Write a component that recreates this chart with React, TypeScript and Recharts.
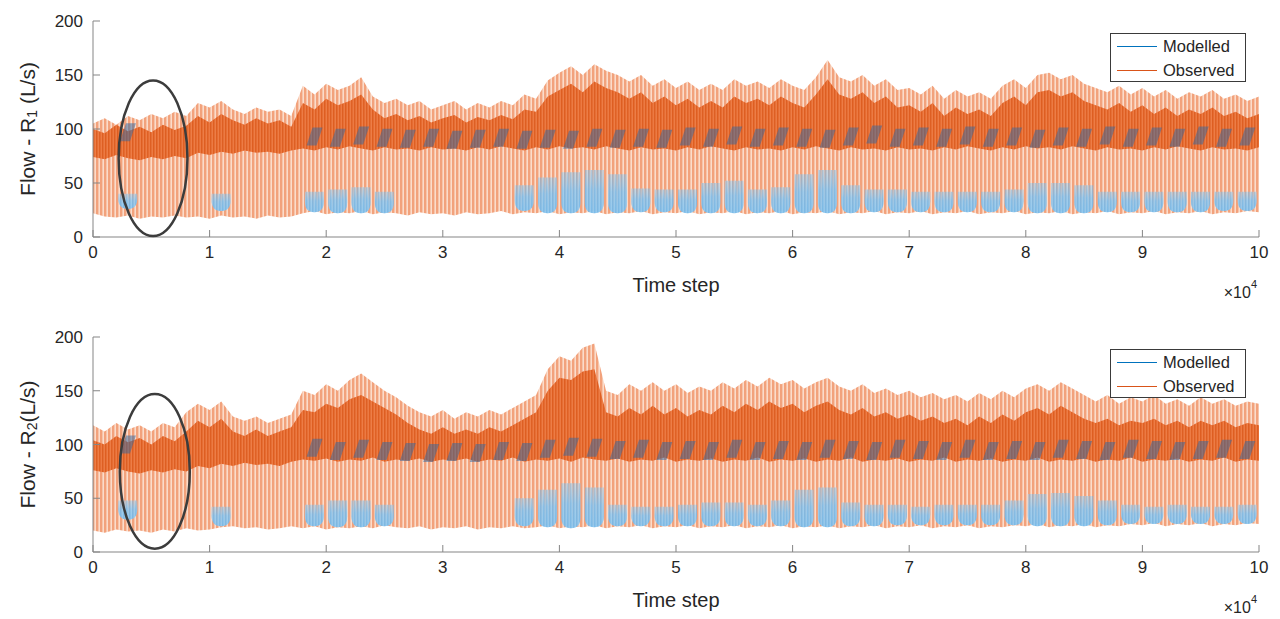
import { ComposedChart, Area, Bar, Scatter, XAxis, YAxis, ReferenceArea, Legend } from 'recharts'

// time axis sampled every 1000 steps (values in thousands)
const timeK = [
  0, 1, 2, 3, 4, 5, 6, 7, 8, 9, 10, 11, 12, 13, 14, 15, 16, 17, 18, 19,
  20, 21, 22, 23, 24, 25, 26, 27, 28, 29, 30, 31, 32, 33, 34, 35, 36, 37, 38, 39,
  40, 41, 42, 43, 44, 45, 46, 47, 48, 49, 50, 51, 52, 53, 54, 55, 56, 57, 58, 59,
  60, 61, 62, 63, 64, 65, 66, 67, 68, 69, 70, 71, 72, 73, 74, 75, 76, 77, 78, 79,
  80, 81, 82, 83, 84, 85, 86, 87, 88, 89, 90, 91, 92, 93, 94, 95, 96, 97, 98, 99, 100,
]
// one modelled cycle every 2000 steps, centred on odd thousands
const cycleK = [
  1, 3, 5, 7, 9, 11, 13, 15, 17, 19, 21, 23, 25, 27, 29, 31, 33, 35, 37, 39,
  41, 43, 45, 47, 49, 51, 53, 55, 57, 59, 61, 63, 65, 67, 69, 71, 73, 75, 77, 79,
  81, 83, 85, 87, 89, 91, 93, 95, 97, 99,
]
const xTicks = [0, 10000, 20000, 30000, 40000, 50000, 60000, 70000, 80000, 90000, 100000]
const yTicks = [0, 50, 100, 150, 200]

// ---- R1 ----
const r1ObsTop = [
  105, 110, 104, 112, 108, 114, 110, 116, 112, 124, 120, 126, 118, 114, 120, 116, 118, 112, 140, 132,
  142, 136, 140, 148, 130, 124, 128, 122, 126, 118, 122, 126, 118, 124, 120, 126, 122, 132, 128, 145,
  152, 158, 150, 160, 154, 150, 144, 150, 140, 146, 138, 144, 136, 142, 136, 146, 140, 144, 138, 146,
  140, 136, 148, 164, 148, 144, 150, 140, 146, 136, 138, 132, 140, 128, 136, 130, 134, 128, 140, 146,
  138, 150, 152, 146, 150, 142, 138, 134, 140, 132, 138, 130, 136, 128, 134, 130, 136, 128, 132, 126, 130,
]
const r1ObsCoreTop = [
  100, 96, 104, 98, 102, 97, 104, 99, 103, 112, 106, 114, 108, 104, 110, 105, 108, 102, 124, 118,
  128, 122, 126, 132, 118, 110, 114, 108, 112, 106, 110, 113, 106, 111, 108, 113, 109, 118, 116, 130,
  136, 142, 134, 144, 138, 134, 128, 134, 124, 130, 122, 128, 120, 126, 120, 130, 124, 128, 122, 130,
  124, 120, 132, 146, 132, 128, 134, 124, 130, 120, 122, 116, 124, 112, 120, 114, 118, 112, 124, 130,
  122, 134, 136, 130, 134, 126, 122, 118, 124, 116, 122, 114, 120, 112, 118, 114, 120, 112, 116, 110, 114,
]
const r1ObsCoreLow = [
  74, 72, 76, 73, 71, 74, 72, 75, 73, 78, 76, 79, 77, 80, 78, 79, 77, 80, 82, 80,
  83, 81, 84, 82, 80, 83, 81, 82, 80, 83, 81, 82, 80, 83, 81, 84, 82, 80, 83, 81,
  84, 82, 83, 81, 84, 82, 80, 83, 81, 82, 80, 83, 81, 84, 82, 80, 83, 81, 82, 80,
  83, 81, 84, 82, 80, 83, 81, 82, 80, 83, 81, 82, 80, 83, 81, 84, 82, 80, 83, 81,
  84, 82, 83, 81, 84, 82, 80, 83, 81, 82, 80, 83, 81, 84, 82, 80, 83, 81, 82, 80, 83,
]
const r1ObsLow = [
  22, 19, 18, 20, 17, 19, 18, 20, 18, 19, 17, 20, 18, 19, 17, 20, 18, 19, 22, 24,
  21, 23, 22, 24, 21, 23, 22, 20, 23, 21, 22, 20, 23, 21, 22, 24, 21, 23, 22, 24,
  21, 23, 22, 24, 21, 23, 22, 24, 21, 23, 22, 24, 21, 23, 22, 24, 21, 23, 22, 24,
  21, 23, 22, 24, 21, 23, 22, 24, 21, 23, 22, 24, 21, 23, 22, 24, 21, 23, 22, 24,
  21, 23, 22, 24, 21, 23, 22, 24, 21, 23, 22, 24, 21, 23, 22, 24, 21, 23, 22, 24, 23,
]
// modelled night-time lows (visible part) per cycle
const r1ModNightLow = [
  null, 26, null, null, null, 24, null, null, null, 23, 22, 22, 22, null, null, null, null, null, 24, 22,
  22, 22, 22, 23, 23, 22, 22, 22, 22, 22, 22, 22, 22, 23, 23, 23, 23, 23, 23, 23,
  22, 22, 22, 23, 23, 23, 23, 23, 24, 24,
]
const r1ModNightTop = [
  null, 40, null, null, null, 40, null, null, null, 42, 44, 46, 42, null, null, null, null, null, 48, 55,
  60, 62, 58, 45, 44, 44, 50, 52, 44, 46, 58, 62, 48, 44, 44, 42, 42, 42, 42, 44,
  50, 50, 48, 42, 42, 42, 42, 42, 42, 42,
]
// modelled daytime peaks per cycle
const r1ModPeak = [
  null, 97, null, null, null, null, null, null, null, 93, 92, 94, 92, 91, 92, 90, 91, 92, 90, 91,
  90, 92, 91, 92, 91, 93, 92, 94, 92, 93, 92, 91, 93, 95, 92, 93, 92, 94, 92, 93,
  91, 93, 92, 94, 92, 93, 92, 94, 92, 93,
]

// ---- R2 ----
const r2ObsTop = [
  118, 112, 120, 114, 118, 112, 120, 116, 130, 138, 132, 140, 126, 122, 126, 120, 124, 128, 150, 146,
  156, 150, 160, 166, 158, 150, 144, 136, 130, 126, 132, 124, 130, 126, 132, 128, 134, 140, 146, 170,
  182, 178, 190, 194, 150, 146, 156, 150, 158, 150, 156, 148, 154, 150, 158, 152, 160, 154, 162, 156,
  160, 152, 158, 162, 154, 150, 156, 148, 152, 146, 150, 144, 148, 142, 146, 140, 148, 142, 150, 144,
  152, 156, 150, 158, 152, 146, 140, 146, 138, 144, 140, 146, 138, 142, 136, 144, 138, 142, 136, 140, 138,
]
const r2ObsCoreTop = [
  104, 100, 108, 102, 106, 100, 108, 103, 112, 122, 116, 124, 112, 108, 114, 108, 112, 116, 132, 130,
  138, 134, 142, 146, 140, 134, 128, 120, 114, 110, 116, 110, 114, 110, 116, 112, 118, 124, 130, 150,
  162, 160, 168, 170, 130, 126, 134, 128, 136, 128, 134, 126, 132, 128, 136, 130, 138, 132, 140, 134,
  138, 130, 136, 140, 132, 128, 134, 126, 130, 124, 128, 122, 126, 120, 124, 118, 126, 120, 128, 122,
  130, 134, 128, 136, 130, 124, 120, 124, 118, 122, 120, 124, 118, 122, 116, 122, 118, 122, 116, 120, 118,
]
const r2ObsCoreLow = [
  76, 74, 78, 75, 73, 76, 74, 77, 75, 80, 78, 82, 80, 83, 81, 82, 80, 84, 86, 85,
  87, 84, 86, 85, 88, 84, 86, 85, 87, 84, 86, 85, 87, 84, 86, 85, 88, 84, 86, 85,
  87, 84, 88, 86, 85, 87, 84, 86, 85, 88, 84, 86, 85, 87, 84, 86, 85, 88, 84, 86,
  85, 87, 84, 86, 85, 88, 84, 86, 85, 87, 84, 86, 85, 88, 84, 86, 85, 87, 84, 86,
  85, 88, 84, 86, 85, 87, 84, 86, 85, 88, 84, 86, 85, 87, 84, 86, 85, 88, 84, 86, 85,
]
const r2ObsLow = [
  20, 18, 21, 19, 20, 18, 21, 19, 22, 20, 21, 23, 24, 22, 23, 21, 22, 24, 22, 24,
  21, 23, 22, 24, 22, 25, 23, 22, 24, 21, 23, 22, 24, 21, 23, 22, 24, 22, 23, 25,
  22, 24, 23, 25, 22, 24, 23, 25, 22, 24, 23, 25, 22, 24, 23, 25, 22, 24, 23, 25,
  22, 24, 23, 25, 22, 24, 23, 25, 22, 24, 23, 25, 22, 24, 23, 25, 22, 24, 23, 25,
  24, 26, 23, 25, 24, 26, 23, 25, 24, 26, 25, 27, 24, 26, 25, 27, 24, 26, 25, 27, 26,
]
const r2ModNightLow = [
  null, 30, null, null, null, 24, null, null, null, 24, 23, 23, 24, null, null, null, null, null, 24, 23,
  22, 23, 24, 24, 24, 24, 24, 24, 24, 24, 23, 23, 24, 24, 25, 25, 25, 25, 25, 25,
  24, 24, 24, 25, 26, 26, 26, 26, 26, 26,
]
const r2ModNightTop = [
  null, 48, null, null, null, 42, null, null, null, 44, 48, 48, 44, null, null, null, null, null, 50, 58,
  64, 60, 44, 42, 42, 44, 46, 46, 44, 48, 58, 60, 46, 44, 44, 42, 44, 44, 44, 48,
  54, 55, 52, 48, 44, 42, 44, 42, 42, 44,
]
const r2ModPeak = [
  null, 100, null, null, null, null, null, null, null, 97, 94, 96, 94, 93, 92, 93, 92, 94, 93, 96,
  98, 97, 95, 96, 94, 95, 94, 96, 94, 95, 94, 96, 95, 94, 96, 95, 94, 96, 94, 95,
  94, 96, 95, 94, 96, 95, 94, 95, 96, 95,
]

const FONT = "'Liberation Sans', Arial, Helvetica, sans-serif"
const TXT = '#262626'
const AXIS = '#858585'

function buildRows(
  obsTop: number[],
  coreTop: number[],
  coreLow: number[],
  obsLow: number[],
  nightLow: (number | null)[],
  nightTop: (number | null)[],
) {
  return timeK.map((k, i) => {
    const c = cycleK.indexOf(k)
    const lo = c >= 0 ? nightLow[c] : null
    const hi = c >= 0 ? nightTop[c] : null
    return {
      t: k * 1000,
      obs: [obsLow[i], obsTop[i]],
      core: [coreLow[i], coreTop[i]],
      night: lo != null && hi != null ? [lo, hi] : null,
    }
  })
}

function buildPeaks(peaks: (number | null)[]) {
  return cycleK
    .map((k, i) => ({ t: k * 1000, v: peaks[i] }))
    .filter((d) => d.v != null)
}

// rounded-bottom bump for a night-time low; drawn wider than the 1000-step band
const NightBump = (p: any) => {
  const { x, y, width, height } = p
  if (x == null || y == null || !height || height <= 0 || Number.isNaN(y)) return <g />
  const cx = x + width / 2
  const w = 19
  const r = Math.min(11, height)
  const b = y + height
  const d = `M${cx - w / 2},${y} L${cx + w / 2},${y} L${cx + w / 2},${b - r} Q${cx + w / 2},${b} ${cx},${b} Q${cx - w / 2},${b} ${cx - w / 2},${b - r} Z`
  return (
    <g>
      <path d={d} fill={`url(#${p.gid}-fade)`} />
      <path d={d} fill={`url(#${p.gid}-blue)`} fillOpacity={0.35} />
    </g>
  )
}

const PeakBlob = (props: any) => {
  const { cx, cy } = props
  if (cx == null || cy == null || Number.isNaN(cy)) return <g />
  return (
    <polygon
      points={`${cx - 8},${cy + 9} ${cx + 2},${cy + 9} ${cx + 8},${cy - 9} ${cx - 2},${cy - 9}`}
      fill="#2d68a4"
      fillOpacity={0.5}
    />
  )
}

const EllipseMark = (p: any) => (
  <ellipse
    cx={p.x + p.width / 2}
    cy={p.y + p.height / 2}
    rx={p.width / 2}
    ry={p.height / 2}
    fill="none"
    stroke="#3c3c3c"
    strokeWidth={2.5}
  />
)

const LegendBox = () => (
  <div
    style={{
      width: 134,
      height: 47,
      border: '1px solid #3a3a3a',
      background: '#fff',
      fontFamily: FONT,
      fontSize: 16.5,
      color: TXT,
    }}
  >
    {[
      { name: 'Modelled', color: '#0072BD' },
      { name: 'Observed', color: '#D95319' },
    ].map((s) => (
      <div key={s.name} style={{ display: 'flex', alignItems: 'center', height: 24 }}>
        <div style={{ width: 40, height: 1, background: s.color, marginLeft: 6, marginRight: 6 }} />
        <span>{s.name}</span>
      </div>
    ))}
  </div>
)

type PanelProps = {
  id: string
  sub: string
  gap: string
  rows: ReturnType<typeof buildRows>
  peaks: { t: number; v: number | null }[]
  height: number
  marginBottom: number
  ellipse: [number, number, number, number]
}

function FlowPanel({ id, sub, gap, rows, peaks, height, marginBottom, ellipse }: PanelProps) {
  return (
    <ComposedChart width={1280} height={height} data={rows} margin={{ top: 21, right: 21, bottom: marginBottom, left: 33 }}>
      <defs>
        <pattern id={`${id}-light`} width="4" height="10" patternUnits="userSpaceOnUse">
          <rect width="4" height="10" fill="#fbdccb" />
          <rect width="2.4" height="10" fill="#f2a27c" />
        </pattern>
        <pattern id={`${id}-core`} width="3" height="10" patternUnits="userSpaceOnUse">
          <rect width="3" height="10" fill="#ec7840" />
          <rect width="1.5" height="10" fill="#dd5a1c" />
        </pattern>
        <pattern id={`${id}-blue`} width="3" height="10" patternUnits="userSpaceOnUse">
          <rect width="3" height="10" fill="#a6d4f3" />
          <rect width="1.5" height="10" fill="#5ea8de" />
        </pattern>
        <linearGradient id={`${id}-fade`} x1="0" y1="0" x2="0" y2="1">
          <stop offset="0%" stopColor="#9fd0f2" stopOpacity={0.25} />
          <stop offset="45%" stopColor="#8ac5ef" stopOpacity={0.8} />
          <stop offset="100%" stopColor="#86c2ec" stopOpacity={0.95} />
        </linearGradient>
      </defs>
      <XAxis
        xAxisId="b"
        dataKey="t"
        type="number"
        domain={[0, 100000]}
        ticks={xTicks}
        tickFormatter={(v: number) => String(v / 10000)}
        tickSize={-7}
        tickMargin={16}
        stroke={AXIS}
        tick={{ fill: TXT, fontSize: 17, fontFamily: FONT }}
        height={40}
        label={{
          content: (p: any) => {
            const vb = p.viewBox
            return (
              <g fontFamily={FONT} fill={TXT}>
                <text x={vb.x + vb.width / 2} y={vb.y + 48} textAnchor="middle" dominantBaseline="central" fontSize={20}>
                  Time step
                </text>
                <text x={vb.x + vb.width - 2} y={vb.y + 55} textAnchor="end" dominantBaseline="central" fontSize={16}>
                  ×10<tspan dy={-8} fontSize={11}>4</tspan>
                </text>
              </g>
            )
          },
        }}
      />
      <XAxis xAxisId="top" orientation="top" dataKey="t" type="number" domain={[0, 100000]} ticks={xTicks} tick={false} tickSize={-7} height={0} stroke={AXIS} />
      <YAxis
        yAxisId="l"
        type="number"
        domain={[0, 200]}
        ticks={yTicks}
        width={60}
        tickSize={-7}
        tickMargin={17}
        stroke={AXIS}
        tick={{ fill: TXT, fontSize: 17, fontFamily: FONT }}
        label={{
          content: (p: any) => {
            const vb = p.viewBox
            const cx = 27
            const cy = vb.y + vb.height / 2
            return (
              <text x={cx} y={cy} transform={`rotate(-90 ${cx} ${cy})`} textAnchor="middle" dominantBaseline="central" fontSize={21} fontFamily={FONT} fill={TXT}>
                Flow - R<tspan dy={5} fontSize={14}>{sub}</tspan>
                <tspan dy={-5}>{gap}(L/s)</tspan>
              </text>
            )
          },
        }}
      />
      <YAxis yAxisId="r" orientation="right" type="number" domain={[0, 200]} ticks={yTicks} tick={false} width={0} tickSize={-7} stroke={AXIS} />
      <Area xAxisId="b" yAxisId="l" dataKey="obs" type="linear" stroke="none" fill={`url(#${id}-light)`} fillOpacity={1} dot={false} activeDot={false} isAnimationActive={false} />
      <Area xAxisId="b" yAxisId="l" dataKey="core" type="linear" stroke="none" fill={`url(#${id}-core)`} fillOpacity={0.95} dot={false} activeDot={false} isAnimationActive={false} />
      <Bar xAxisId="b" yAxisId="l" dataKey="night" shape={(p: any) => <NightBump {...p} gid={id} />} isAnimationActive={false} />
      <Scatter xAxisId="b" yAxisId="l" data={peaks} dataKey="v" shape={PeakBlob} isAnimationActive={false} />
      <ReferenceArea xAxisId="b" yAxisId="l" x1={ellipse[0]} x2={ellipse[1]} y1={ellipse[2]} y2={ellipse[3]} shape={EllipseMark} zIndex={1000} />
      <Legend
        verticalAlign="middle"
        align="center"
        layout="horizontal"
        wrapperStyle={{ position: 'absolute', top: 33, left: 1110, width: 136, height: 49 }}
        content={() => <LegendBox />}
      />
    </ComposedChart>
  )
}

export default function App() {
  const rows1 = buildRows(r1ObsTop, r1ObsCoreTop, r1ObsCoreLow, r1ObsLow, r1ModNightLow, r1ModNightTop)
  const rows2 = buildRows(r2ObsTop, r2ObsCoreTop, r2ObsCoreLow, r2ObsLow, r2ModNightLow, r2ModNightTop)
  return (
    <div style={{ position: 'absolute', left: 0, top: 0, width: 1280, height: 619, background: '#fff', fontFamily: FONT }}>
      <div style={{ position: 'absolute', left: 0, top: 0 }}>
        <FlowPanel id="r1" sub="1" gap="  " rows={rows1} peaks={buildPeaks(r1ModPeak)} height={300} marginBottom={23} ellipse={[2200, 8100, 1, 145]} />
      </div>
      <div style={{ position: 'absolute', left: 0, top: 316 }}>
        <FlowPanel id="r2" sub="2" gap="" rows={rows2} peaks={buildPeaks(r2ModPeak)} height={303} marginBottom={27} ellipse={[2300, 8300, 3, 147]} />
      </div>
    </div>
  )
}
